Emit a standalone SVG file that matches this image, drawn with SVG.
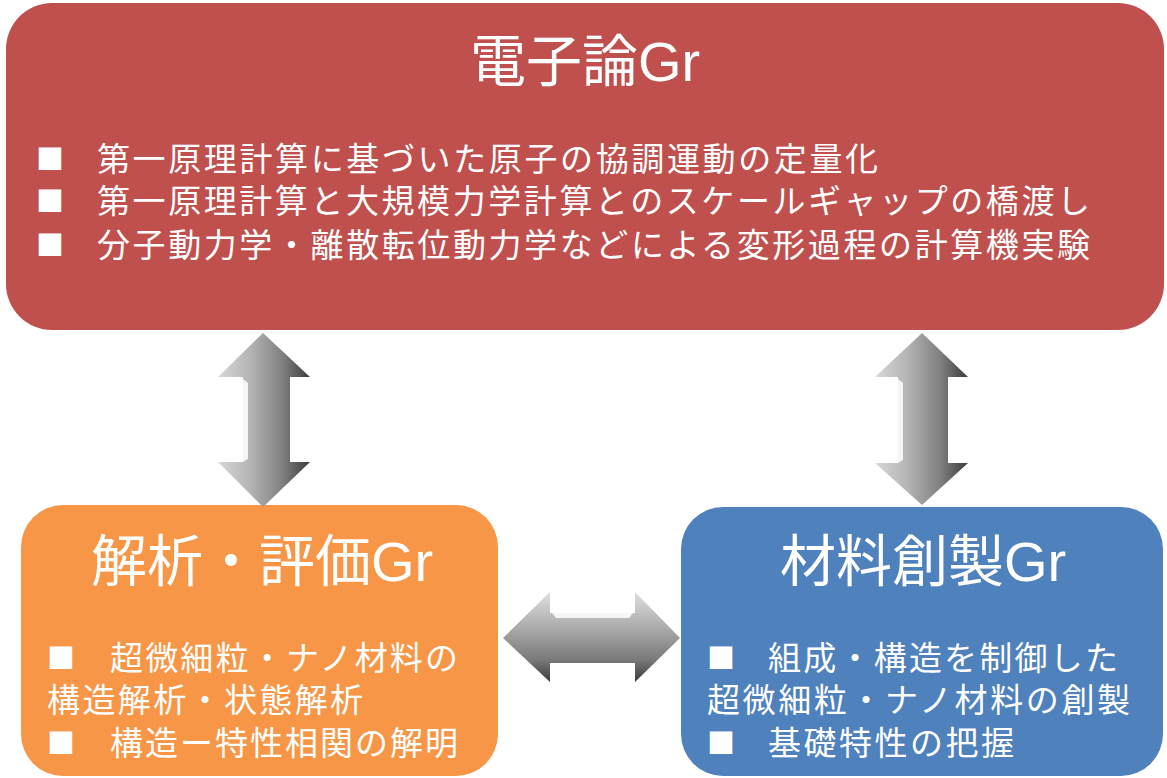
<svg xmlns="http://www.w3.org/2000/svg" width="1167" height="778" viewBox="0 0 1167 778">
<defs>
<style>
.t{font-family:"Liberation Sans","Noto Sans CJK JP",sans-serif;fill:#ffffff;}
.title{font-size:56px;text-anchor:middle;}
.body{font-family:"Noto Sans CJK JP",sans-serif;font-size:33px;fill:#ffffff;}
.bul{font-family:"Noto Sans CJK JP",sans-serif;font-size:28px;fill:#ffffff;}
.arrow{stroke:none;}
</style>
<linearGradient id="gv" x1="0" y1="0" x2="1" y2="0">
<stop offset="0" stop-color="#d8d8d8"/>
<stop offset="0.35" stop-color="#b4b4b4"/>
<stop offset="0.7" stop-color="#808080"/>
<stop offset="1" stop-color="#3c3c3c"/>
</linearGradient>
<linearGradient id="gh" x1="0" y1="0" x2="0" y2="1">
<stop offset="0" stop-color="#e0e0e0"/>
<stop offset="0.4" stop-color="#aaaaaa"/>
<stop offset="0.75" stop-color="#7a7a7a"/>
<stop offset="1" stop-color="#3a3a3a"/>
</linearGradient>
</defs>
<rect width="1167" height="778" fill="#ffffff"/>

<g id="node-denshiron">
<rect x="6" y="3" width="1158" height="327" rx="46" ry="46" fill="#C0504D"/>
<text class="t title" x="585" y="81">電子論Gr</text>
<text class="bul" x="36" y="170">■</text>
<text class="body" x="97" y="171" textLength="781" lengthAdjust="spacing">第一原理計算に基づいた原子の協調運動の定量化</text>
<text class="bul" x="36" y="212">■</text>
<text class="body" x="97" y="213" textLength="993" lengthAdjust="spacing">第一原理計算と大規模力学計算とのスケールギャップの橋渡し</text>
<text class="bul" x="36" y="256">■</text>
<text class="body" x="97" y="257" textLength="993" lengthAdjust="spacing">分子動力学・離散転位動力学などによる変形過程の計算機実験</text>
</g>

<g id="node-kaiseki">
<rect x="21" y="505" width="477" height="271" rx="42" ry="42" fill="#F79646"/>
<text class="t title" x="262" y="581">解析・評価Gr</text>
<text class="bul" x="47" y="669">■</text>
<text class="body" x="110" y="670" textLength="348" lengthAdjust="spacing">超微細粒・ナノ材料の</text>
<text class="body" x="47" y="712" textLength="316" lengthAdjust="spacing">構造解析・状態解析</text>
<text class="bul" x="47" y="754">■</text>
<text class="body" x="110" y="755" textLength="348" lengthAdjust="spacing">構造ー特性相関の解明</text>
</g>

<g id="node-zairyo">
<rect x="681" y="507" width="482" height="269" rx="42" ry="42" fill="#4F81BD"/>
<text class="t title" x="923" y="581">材料創製Gr</text>
<text class="bul" x="707" y="669">■</text>
<text class="body" x="768" y="670" textLength="350" lengthAdjust="spacing">組成・構造を制御した</text>
<text class="body" x="707" y="712" textLength="423" lengthAdjust="spacing">超微細粒・ナノ材料の創製</text>
<text class="bul" x="707" y="754">■</text>
<text class="body" x="768" y="755" textLength="246" lengthAdjust="spacing">基礎特性の把握</text>
</g>

<g id="connectors">
<g id="arrow-left-vertical">
<polygon class="arrow" fill="url(#gv)" points="263,333 310,377 290,377 290,462 310,462 263,507 218,462 243,462 243,377 218,377"/>
<polygon fill="#ffffff" opacity="0.85" points="243,379 248,383 248,459 243,462"/>
</g>
<g id="arrow-right-vertical">
<polygon class="arrow" fill="url(#gv)" points="922,333 968,377 948,377 948,463 968,463 922,505 875,463 898,463 898,377 875,377"/>
<polygon fill="#ffffff" opacity="0.85" points="898,379 903,383 903,460 898,463"/>
</g>
<g id="arrow-horizontal">
<polygon class="arrow" fill="url(#gh)" points="503,638 550,592 550,613 635,613 635,592 680,638 635,682 635,663 550,663 550,682"/>
<polygon fill="#ffffff" opacity="0.85" points="552,613 633,613 629,618 556,618"/>
</g>
</g>
</svg>
